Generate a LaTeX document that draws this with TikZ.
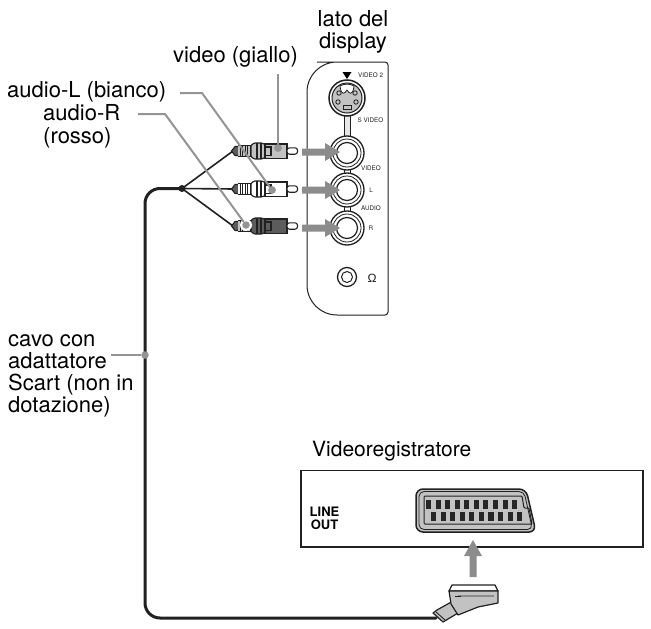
\documentclass[tikz,border=0pt]{standalone}
\usepackage{fontspec}
\setmainfont{TeX Gyre Heros}
\definecolor{arrowgray}{gray}{0.55}
\definecolor{leadgray}{gray}{0.58}
\definecolor{ink}{gray}{0.13}
\definecolor{lightbody}{gray}{0.76}
\definecolor{darkbody}{gray}{0.36}
\newcommand{\rcaplug}[4]{%
 \begin{scope}[yshift=-#1pt,plugline]
  \filldraw[fill=darkbody] (231.5,0) -- (235,-4.5) -- (239,-4.5) -- (239,4.5) -- (235,4.5) -- cycle;
  \fill[#4] (238,-5.5) rectangle (253,5.5);
  \foreach \k in {240,242.5,...,252}{\draw[line width=1pt] (\k,-5.5) -- (\k,5.5);}
  \draw (238,-5.5) -- (253,-5.5) (238,5.5) -- (253,5.5);
  \filldraw[fill=#2,rounded corners=1pt] (265,-6.5) -- (262,-8) -- (254,-8) -- (251,-5.5) -- (251,5.5) -- (254,8) -- (262,8) -- (265,6.5) -- cycle;
  \filldraw[fill=#3] (265,-7) rectangle (287,7.5);
  \draw (257,-8) -- (257,8) (261,-8) -- (261,8);
  \draw (265,-4) -- (271,-4) -- (271,4.5) -- (265,4.5);
  \filldraw[fill=white,rounded corners=2.5pt] (287,-3.2) -- (297.5,-3.2) -- (297.5,3.2) -- (287,3.2) -- cycle;
 \end{scope}}
\newcommand{\jackring}[1]{%
  \filldraw[jackline,fill=white] (#1) circle (17);
  \draw[line width=.8pt,ink] (#1) circle (14);
  \draw[line width=1.2pt,ink,fill=white] (#1) circle (10.5);}
\tikzset{
 x=1pt,y=-1pt,
 lab/.style={font=\fontsize{22}{22}\selectfont,inner sep=0pt,text=black},
 tiny/.style={font=\fontsize{6.3}{7}\selectfont,inner sep=0pt,text=ink},
 lineout/.style={font=\fontsize{13}{13}\bfseries\selectfont,inner sep=0pt,align=center},
 plugline/.style={draw=ink,line width=1.1pt},
 jackline/.style={draw=ink,line width=1.3pt},
 branch/.style={draw=ink,line width=1.6pt},
 mainline/.style={draw=ink,line width=3pt},
 leader/.style={draw=leadgray,line width=2pt},
 dot/.style={circle,fill=leadgray,minimum size=7.5pt,inner sep=0pt},
 bigarrow/.style={fill=arrowgray},
 panel/.style={draw=ink,line width=1pt,fill=white},
 vcr/.style={draw=ink,line width=1.2pt,fill=white},
}
\begin{document}
\begin{tikzpicture}
\useasboundingbox (0,0) rectangle (651,629);
% panel
\draw[panel] (347,62) [rounded corners=3pt] -- (388,62) -- (388,315) -- (347,315) [rounded corners=30pt] -- (307,315) -- (307,62) -- cycle;
% links between jacks
\filldraw[draw=ink,line width=.8pt,fill=lightbody!40] (344.5,112) rectangle (350,140);
\filldraw[draw=ink,line width=.8pt,fill=white] (344.5,166) rectangle (350,176);
\filldraw[draw=ink,line width=.8pt,fill=white] (344.5,204) rectangle (350,214);
% S-video
\coordinate (sv) at (347,98);
\filldraw[draw=ink,line width=1.5pt,fill=white] (sv) circle (18);
\filldraw[draw=ink,line width=1pt,fill=lightbody] (sv) circle (15);
\filldraw[draw=ink,line width=.8pt,fill=white] (340,86) .. controls (341,96) and (345,94) .. (347,90) .. controls (349,94) and (353,96) .. (354,86) .. controls (350,83.5) and (344,83.5) .. (340,86) -- cycle;
\foreach \p in {(339,93),(355,93),(338,102),(356,102)}{\filldraw[draw=ink,line width=.8pt,fill=lightbody] \p circle (2.2);}
\draw[ink,line width=.8pt] (343,105) rectangle (351,109);
\fill[black] (342.5,72) -- (351.5,72) -- (347,79) -- cycle;
% jacks
\coordinate (jv) at (347,153);
\coordinate (jl) at (347,190);
\coordinate (jr) at (347,228);
\coordinate (jh) at (347,277);
\jackring{jv}\jackring{jl}\jackring{jr}
\filldraw[jackline,fill=white] (jh) circle (9.5);
\draw[line width=1pt,ink] (jh) circle (5.5);
% small labels
\node[tiny,anchor=west] (tv2) at (358,75) {VIDEO 2};
\node[tiny] (tsv) at (370.5,120) {S VIDEO};
\node[tiny] (tvi) at (371,168) {VIDEO};
\node[tiny] (tl) at (371,190) {L};
\node[tiny] (tau) at (371,208) {AUDIO};
\node[tiny] (tr) at (371,228) {R};
\node[tiny,font=\fontsize{12}{12}\selectfont] (tom) at (372,278) {\fontspec{Liberation Sans}Ω};
% big arrows
\foreach \yy in {152,190,228}{
 \fill[bigarrow] (302,\yy-3.5) -- (325,\yy-3.5) -- (325,\yy-9) -- (340,\yy) -- (325,\yy+9) -- (325,\yy+3.5) -- (302,\yy+3.5) -- cycle;}
% cable
\coordinate (junc) at (182,188.5);
\coordinate (bv) at (233,151);
\coordinate (bl) at (233,189);
\coordinate (br) at (233,226);
\coordinate (wire) at (145,355);
\coordinate (sc) at (436,618);
\draw[branch] (junc) -- (bv);
\draw[branch] (junc) -- (bl);
\draw[branch] (junc) -- (br);
\fill[ink] (junc) circle (3.5);
\draw[mainline,rounded corners=15pt,line cap=round] (junc) -- (145,188.5) -- (145,618) -- (sc);
% plugs
\rcaplug{151}{lightbody}{lightbody}{lightbody}
\rcaplug{189}{white}{white}{white}
\rcaplug{226}{darkbody}{darkbody}{lightbody}
% labels
\node[lab,align=center] (lato) at (353,32) {lato del\\display};
\node[lab] (vg) at (235.5,57) {video (giallo)};
\node[lab,anchor=west] (al) at (7,92) {audio-L (bianco)};
\node[lab,font=\fontsize{22}{23}\selectfont,align=left,anchor=west] (ar) at (43,126.5) {audio-R\\(rosso)};
\node[lab,align=left,anchor=north west] (cavo) at (8,334.5) {cavo con\\adattatore\\Scart (non in\\dotazione)};
\node[lab,font=\fontsize{21}{22}\selectfont,anchor=west] (vr) at (312,451) {Videoregistratore};
% leaders
\node[dot] (dv) at (278,148) {};
\node[dot] (dl) at (272,190) {};
\node[dot] (dr) at (246,225) {};
\node[dot] (dw) at (wire) {};
\coordinate (lv0) at (278,74);
\coordinate (ll0) at (180,93);
\coordinate (ll1) at (202,93);
\coordinate (lr0) at (138,114);
\coordinate (lr1) at (165,114);
\coordinate (lw0) at (111,355);
\fill[white] (dr) circle (6);
\draw[leader] (lv0) -- (dv);
\draw[leader] (ll0) -- (ll1) -- (dl);
\draw[leader] (lr0) -- (lr1) -- (dr);
\draw[leader] (lw0) -- (dw);
\node[dot] at (dv) {};
\node[dot] at (dl) {};
\node[dot] at (dr) {};
% VCR
\filldraw[vcr] (301,470.5) rectangle (643,547);
\node[lineout] (lo) at (324.5,518.5) {LINE\\OUT};
% SCART socket
\filldraw[draw=ink,line width=1.5pt,fill=lightbody,rounded corners=7pt] (416,489) -- (526,489) -- (536,532) -- (416,532) -- cycle;
\draw[ink,line width=.8pt,rounded corners=5pt] (419,491.5) -- (524,491.5) -- (532.5,529.5) -- (419,529.5) -- cycle;
\draw[ink,line width=1pt,rounded corners=1pt] (424,496) -- (522,496) -- (524,508) -- (529,508) -- (532,524) -- (424,524) -- cycle;
\foreach \i in {0,...,9}{
 \fill[black!85] (426+\i*9.57,500) rectangle ++(5,8.5);
 \fill[black!85] (431+\i*9.57,512) rectangle ++(5.2,9);}
% vertical arrow
\fill[bigarrow] (469.5,577) -- (469.5,556) -- (464,556) -- (473,540) -- (482,556) -- (476.5,556) -- (476.5,577) -- cycle;
% SCART plug
\begin{scope}[line join=round]
\filldraw[draw=ink,line width=1.2pt,fill=white] (452,585) -- (495,585) -- (498,591) -- (449,591) -- cycle;
\filldraw[draw=ink,line width=1.2pt,fill=lightbody] (433,613) -- (437,610) -- (453,601) -- (458,613) -- (443,622) -- cycle;
\draw[ink,line width=.9pt] (436,612) -- (445,620);
\filldraw[draw=ink,line width=1.2pt,fill=lightbody] (449,591) -- (498,591) -- (498,603) -- (478,607) -- (458,615) -- (451,604) -- cycle;
\draw[draw=arrowgray,line width=2pt] (458,596) -- (494,596);
\draw[ink,line width=1pt] (455,596) -- (461,596);
\end{scope}
\end{tikzpicture}
\end{document}
